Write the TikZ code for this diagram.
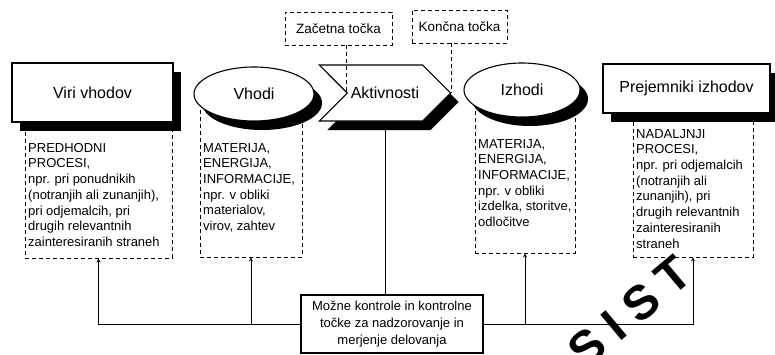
\documentclass[tikz,border=0pt]{standalone}
\usepackage{fontspec}
\setmainfont{Liberation Sans}
\newfontfamily\stampfont[LetterSpace=25]{Liberation Sans}
\usepackage{xcolor}
\usepackage{tikz}
\usetikzlibrary{arrows,shapes,shadows}

\begin{document}
\begin{tikzpicture}[x=1pt,y=-1pt,>=stealth]
    \useasboundingbox (0,0) rectangle (775,354);

    \tikzstyle{dark}=[drop shadow={shadow xshift=8pt,shadow yshift=-9pt,fill=black,opacity=1}]  % black shadow
    \tikzstyle{format}=[rectangle,draw,line width=1.1pt,fill=white,dark,font=\fontsize{16pt}{18pt}\selectfont]
    \tikzstyle{oval}=[ellipse,draw,line width=1.1pt,fill=white,dark,font=\fontsize{16pt}{18pt}\selectfont]
    \tikzstyle{act}=[signal,signal to=east,signal from=west,signal pointer angle=90,draw,line width=1.1pt,fill=white,dark,font=\fontsize{16pt}{18pt}\selectfont]
    \tikzstyle{dbox}=[rectangle,draw,line width=0.8pt,dash pattern=on 4pt off 3pt,font=\fontsize{13.5pt}{16pt}\selectfont]
    \tikzstyle{txt}=[anchor=north west,align=left,inner sep=0pt,font=\fontsize{13pt}{15.7pt}\selectfont]
    \tikzstyle{link}=[line width=0.8pt,dash pattern=on 4pt off 3pt]

    % dashed boxes under the shapes
    \node[dbox,minimum width=147,minimum height=133](srcbox) at (98.5,191.5){};
    \node[dbox,minimum width=102,minimum height=157](inbox) at (251,178.5){};
    \node[dbox,minimum width=100,minimum height=153](outbox) at (525,176.5){};
    \node[dbox,minimum width=120,minimum height=147](rcvbox) at (693,183.5){};
    \node[txt](srctext) at (28,143){PREDHODNI\\PROCESI,\\npr. pri ponudnikih\\(notranjih ali zunanjih),\\pri odjemalcih, pri\\drugih relevantnih\\zainteresiranih straneh};
    \node[txt](intext) at (203,143){MATERIJA,\\ENERGIJA,\\INFORMACIJE,\\npr. v obliki\\materialov,\\virov, zahtev};
    \node[txt](outtext) at (478,139){MATERIJA,\\ENERGIJA,\\INFORMACIJE,\\npr. v obliki\\izdelka, storitve,\\odločitve};
    \node[txt](rcvtext) at (636,129){NADALJNJI\\PROCESI,\\npr. pri odjemalcih\\(notranjih ali\\zunanjih), pri\\drugih relevantnih\\zainteresiranih\\straneh};

    % main row
    \node[format,minimum width=161,minimum height=59](src) at (92.5,92.5){Viri vhodov};
    \node[oval,minimum width=120,minimum height=54](inp) at (254,94){Vhodi};
    \node[act,minimum width=120,minimum height=56](work) at (385,93){Aktivnosti};
    \node[oval,minimum width=116,minimum height=54](outp) at (522,90){Izhodi};
    \node[format,minimum width=167,minimum height=49](rcv) at (686.5,88.5){Prejemniki izhodov};

    \node[dbox,minimum width=107,minimum height=33](start) at (338.5,28.5){Začetna točka};
    \node[dbox,minimum width=95,minimum height=33](finish) at (459.5,26.5){Končna točka};

    \node[rectangle,draw,line width=1.1pt,fill=white,minimum width=182,minimum height=58,align=center,
          font=\fontsize{13pt}{17pt}\selectfont](ctrl) at (392,324){Možne kontrole in kontrolne\\točke za nadzorovanje in\\merjenje delovanja};

    \node[rotate=40,font=\stampfont\bfseries\fontsize{48pt}{48pt}\selectfont](stamp) at (630,312){SIST};

    % lines
    \draw[link](work.west |- start.south)--(work.west);
    \draw[link](work.east |- finish.south)--(work.east);
    \draw[->,line width=0.8pt](ctrl.west)-|(srcbox.south);
    \draw[->,line width=0.8pt](ctrl.west)-|(inbox.south);
    \draw[->,line width=0.8pt](ctrl.north -| work.south)--(work.south);
    \draw[->,line width=0.8pt](ctrl.east)-|(outbox.south);
    \draw[->,line width=0.8pt](ctrl.east)-|(rcvbox.south);
\end{tikzpicture}
\end{document}
